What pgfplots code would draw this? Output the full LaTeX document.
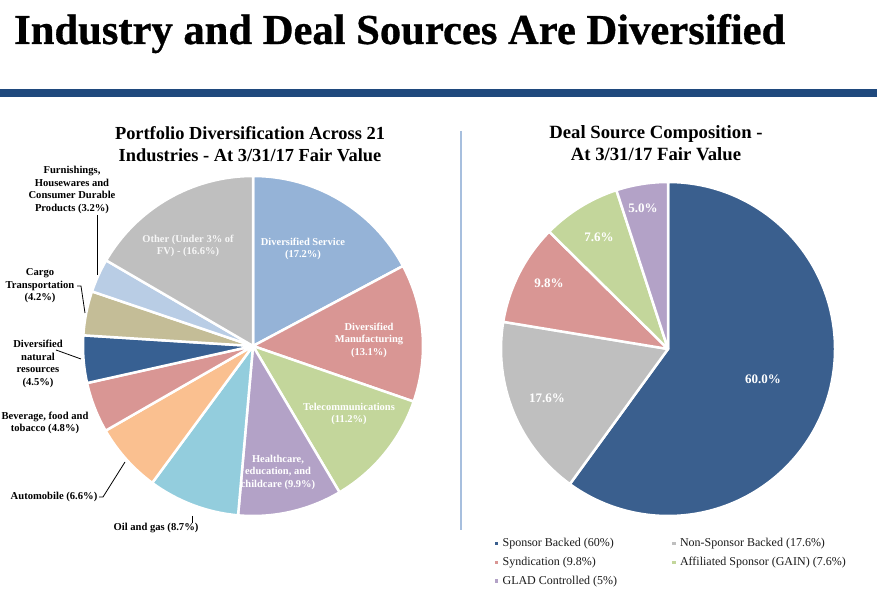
\documentclass[border=0pt]{standalone}
\usepackage{pgfplots}
\pgfplotsset{compat=1.18}
\usepackage{fontspec}
\setmainfont{Liberation Serif}
\newfontfamily\titlefont{Liberation Serif}[BoldFeatures={FakeBold=0.7}]
\usepackage{graphicx}
\definecolor{barblue}{HTML}{1F497D}
\definecolor{sepblue}{HTML}{A7BFDE}
\definecolor{cDS}{HTML}{95B3D7}
\definecolor{cDM}{HTML}{D99694}
\definecolor{cTel}{HTML}{C3D69B}
\definecolor{cHea}{HTML}{B3A2C7}
\definecolor{cOil}{HTML}{93CDDD}
\definecolor{cAut}{HTML}{FAC090}
\definecolor{cBev}{HTML}{D99694}
\definecolor{cNat}{HTML}{376092}
\definecolor{cCar}{HTML}{C4BD97}
\definecolor{cFur}{HTML}{B9CDE5}
\definecolor{cOth}{HTML}{BFBFBF}
\definecolor{cSpon}{HTML}{3A5F8E}
\definecolor{cNon}{HTML}{BFBFBF}
\definecolor{cSyn}{HTML}{D99694}
\definecolor{cAff}{HTML}{C3D69B}
\definecolor{cGlad}{HTML}{B3A2C7}
\definecolor{legtext}{HTML}{1A1A1A}
\begin{document}
\begin{tikzpicture}[x=1bp,y=1bp]
\path[use as bounding box, fill=white] (0,0) rectangle (877,597);
% main title
\node[anchor=base west, inner sep=0pt] at (14,553) {\resizebox{771bp}{30bp}{\titlefont\bfseries Industry and Deal Sources Are Diversified}};
\fill[barblue] (0,499.5) rectangle (877,507.5);
\draw[sepblue, line width=2bp] (461,466) -- (461,67);

% ---------------- left pie ----------------
\begin{axis}[at={(253,251)}, anchor=origin, x=1bp, y=1bp,
  xmin=-175, xmax=175, ymin=-175, ymax=175, hide axis, clip=false]
\pgfplotsextra{
  \gdef\cum{90}
  \foreach \v/\c in {17.2/cDS, 13.1/cDM, 11.2/cTel, 9.9/cHea, 8.7/cOil, 6.6/cAut, 4.8/cBev, 4.5/cNat, 4.2/cCar, 3.2/cFur, 16.6/cOth}{
    \pgfmathsetmacro\e{\cum-3.6*\v}
    \fill[\c, draw=white, line width=2.5bp, line join=round] (axis cs:0,0) -- ++(\cum:170bp) arc[start angle=\cum, end angle=\e, radius=170bp] -- cycle;
    \xdef\cum{\e}
  }
}
\end{axis}

% ---------------- right pie ----------------
\begin{axis}[at={(668,248)}, anchor=origin, x=1bp, y=1bp,
  xmin=-175, xmax=175, ymin=-175, ymax=175, hide axis, clip=false,
  legend columns=2, legend cell align=left,
  legend style={at={(-0.004,-0.029)}, anchor=north west, draw=none, fill=none,
    font=\fontsize{12bp}{14bp}\selectfont, text=legtext, row sep=5bp,
    /tikz/every odd column/.append style={column sep=3bp},
    /tikz/every even column/.append style={column sep=53bp}}]
\addlegendimage{only marks, mark=square*, mark size=1.4bp, cSpon}
\addlegendentry{Sponsor Backed (60\%)}
\addlegendimage{only marks, mark=square*, mark size=1.4bp, cNon}
\addlegendentry{Non-Sponsor Backed (17.6\%)}
\addlegendimage{only marks, mark=square*, mark size=1.4bp, cSyn}
\addlegendentry{Syndication (9.8\%)}
\addlegendimage{only marks, mark=square*, mark size=1.4bp, cAff}
\addlegendentry{Affiliated Sponsor (GAIN) (7.6\%)}
\addlegendimage{only marks, mark=square*, mark size=1.4bp, cGlad}
\addlegendentry{GLAD Controlled (5\%)}
\pgfplotsextra{
  \gdef\cum{90}
  \foreach \v/\c in {60.0/cSpon, 17.6/cNon, 9.8/cSyn, 7.6/cAff, 5.0/cGlad}{
    \pgfmathsetmacro\e{\cum-3.6*\v}
    \fill[\c, draw=white, line width=2.5bp, line join=round] (axis cs:0,0) -- ++(\cum:167bp) arc[start angle=\cum, end angle=\e, radius=167bp] -- cycle;
    \xdef\cum{\e}
  }
}
\end{axis}

% ---------------- titles ----------------
\node[align=center, font=\bfseries\fontsize{18.4bp}{22bp}\selectfont] at (250,453) {Portfolio Diversification Across 21\\Industries - At 3/31/17 Fair Value};
\node[align=center, font=\bfseries\fontsize{18.7bp}{22bp}\selectfont] at (656,454) {Deal Source Composition -\\At 3/31/17 Fair Value};

% ---------------- left labels (inside) ----------------
\tikzset{inlab/.style={align=center, text=white, font=\bfseries\fontsize{10.5bp}{12.5bp}\selectfont, inner sep=0pt},
         outlab/.style={align=center, text=black, font=\bfseries\fontsize{10.6bp}{12.5bp}\selectfont, inner sep=0pt}}
\node[inlab] at (303,348) {Diversified Service\\(17.2\%)};
\node[inlab] at (369,257) {Diversified\\Manufacturing\\(13.1\%)};
\node[inlab] at (349,183) {Telecommunications\\(11.2\%)};
\node[inlab] at (278,125) {Healthcare,\\education, and\\childcare (9.9\%)};
\node[inlab, text=white!93!gray] at (188,351) {Other (Under 3\% of\\FV) - (16.6\%)};

% ---------------- left labels (outside) ----------------
\node[outlab] at (72,407) {Furnishings,\\Housewares and\\Consumer Durable\\Products (3.2\%)};
\draw[black, line width=0.8bp] (97,382) -- (97,322);
\node[outlab] at (40,311) {Cargo\\Transportation\\(4.2\%)};
\draw[black, line width=0.8bp] (77,311) -- (81,311) -- (85,284);
\node[outlab] at (38,233) {Diversified\\natural\\resources\\(4.5\%)};
\draw[black, line width=0.8bp] (56,247) -- (81,238);
\node[outlab] at (45,174) {Beverage, food and\\tobacco (4.8\%)};
\node[outlab] at (54,100) {Automobile (6.6\%)};
\draw[black, line width=0.8bp] (99,100) -- (103,100) -- (125,135);
\node[outlab] at (156,69) {Oil and gas (8.7\%)};
\draw[black, line width=0.8bp] (192,81) -- (192,74);

% ---------------- right labels ----------------
\tikzset{rlab/.style={text=white, font=\bfseries\fontsize{13bp}{15bp}\selectfont, inner sep=0pt}}
\node[rlab] at (763,218) {60.0\%};
\node[rlab] at (547,199) {17.6\%};
\node[rlab] at (549,314) {9.8\%};
\node[rlab] at (599,360) {7.6\%};
\node[rlab] at (643,389) {5.0\%};
\end{tikzpicture}
\end{document}
